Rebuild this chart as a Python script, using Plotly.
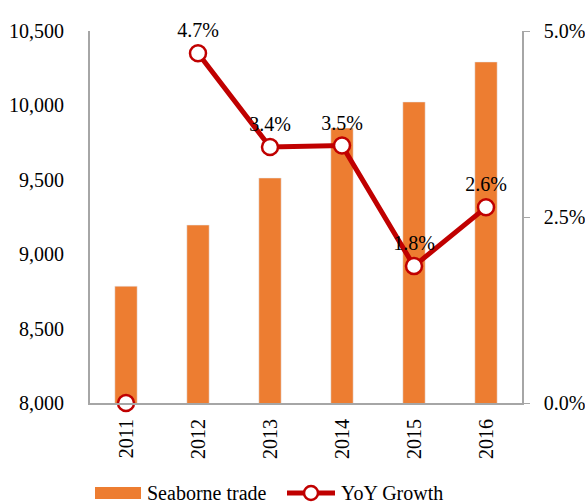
import plotly.graph_objects as go

years = ["2011", "2012", "2013", "2014", "2015", "2016"]
seaborne = [8785, 9196, 9512, 9848, 10023, 10292]
yoy = [0.0, 4.7, 3.44, 3.46, 1.84, 2.63]
yoy_labels = ["", "4.7%", "3.4%", "3.5%", "1.8%", "2.6%"]

font = "Liberation Serif, Times New Roman, serif"
orange = "#ED7D31"
red = "#C00000"

fig = go.Figure()
fig.add_trace(go.Bar(
    x=years, y=seaborne, name="Seaborne trade",
    marker=dict(color=orange), width=0.31, yaxis="y", showlegend=False
))
# line starts at 2012 (no connection from 2011)
fig.add_trace(go.Scatter(
    x=years[1:], y=yoy[1:], name="YoY Growth", yaxis="y2",
    mode="lines+markers+text", text=yoy_labels[1:], textposition="top center",
    textfont=dict(family=font, size=20, color="#000000"),
    line=dict(color=red, width=5),
    marker=dict(size=16, color="white", line=dict(color=red, width=2.5)),
    cliponaxis=False, showlegend=False
))
fig.add_trace(go.Scatter(
    x=years[:1], y=yoy[:1], yaxis="y2", mode="markers",
    marker=dict(size=16, color="white", line=dict(color=red, width=2.5)),
    cliponaxis=False, showlegend=False
))

# custom legend (plot area: x 90..522 px, y 31..403 px)
W, H = 432.0, 372.0
px = lambda v: (v - 90) / W
py = lambda v: (403 - v) / H
shapes = [
    dict(type="rect", xref="paper", yref="paper", x0=px(95), x1=px(141),
         y0=py(499), y1=py(487), fillcolor=orange, line=dict(width=0)),
    dict(type="line", xref="paper", yref="paper", x0=px(287), x1=px(335),
         y0=py(493), y1=py(493), line=dict(color=red, width=5)),
    dict(type="circle", xref="paper", yref="paper", x0=px(304), x1=px(318),
         y0=py(500), y1=py(486), fillcolor="white", line=dict(color=red, width=2.5)),
]
annotations = [
    dict(xref="paper", yref="paper", x=px(145), y=py(493), text="Seaborne trade",
         showarrow=False, xanchor="left", yanchor="middle", font=dict(size=20)),
    dict(xref="paper", yref="paper", x=px(339), y=py(493), text="YoY Growth",
         showarrow=False, xanchor="left", yanchor="middle", font=dict(size=20)),
]

fig.update_layout(
    width=585, height=504,
    margin=dict(l=90, r=63, t=31, b=101, autoexpand=False),
    plot_bgcolor="white", paper_bgcolor="white",
    font=dict(family=font, size=20, color="#000000"),
    showlegend=False,
    shapes=shapes, annotations=annotations,
    xaxis=dict(tickangle=-90, showline=True, linecolor="#A6A6A6", linewidth=2,
               ticks="", tickfont=dict(size=20), automargin=False,
               ticklabelstandoff=6),
    yaxis=dict(range=[8000, 10500], tickvals=[8000, 8500, 9000, 9500, 10000, 10500],
               tickformat=",", showline=True, linecolor="#A6A6A6", linewidth=2,
               showgrid=False, ticks="", zeroline=False, tickfont=dict(size=20),
               automargin=False, ticklabelstandoff=20),
    yaxis2=dict(range=[0, 5], tickvals=[0, 2.5, 5], ticktext=["0.0%", "2.5%", "5.0%"],
                overlaying="y", side="right", showline=True, linecolor="#A6A6A6",
                linewidth=1.5, ticks="outside", ticklen=6, tickcolor="#A6A6A6",
                showgrid=False, zeroline=False, tickfont=dict(size=20),
                automargin=False, ticklabelstandoff=10),
)

fig.write_html("out.html", config={"displayModeBar": False},
               post_script="document.body.style.margin='0';document.body.style.overflow='hidden';")
